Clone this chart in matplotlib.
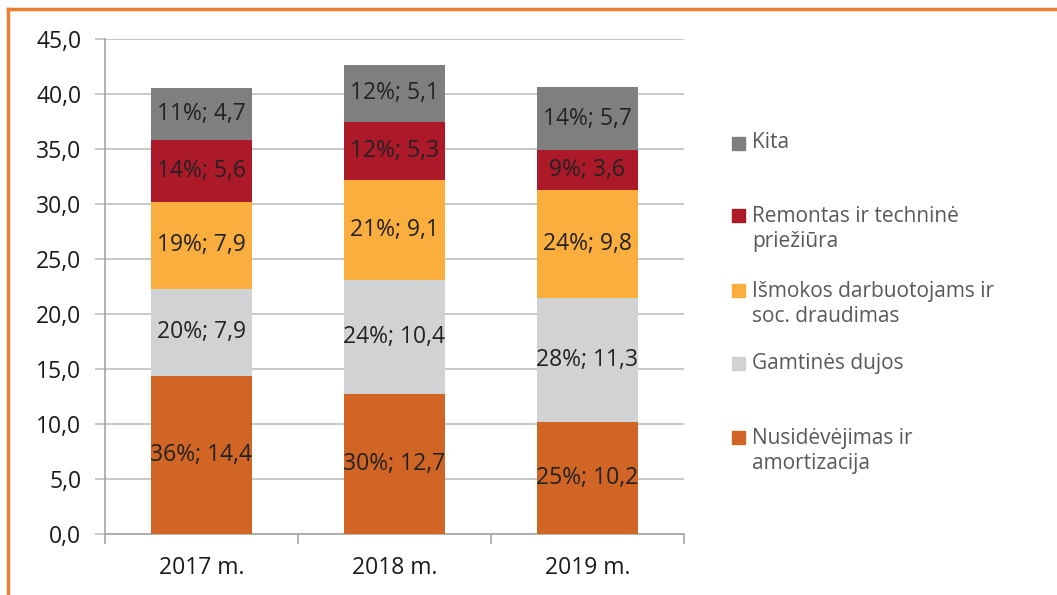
import numpy as np
import matplotlib
matplotlib.use("Agg")
import matplotlib.pyplot as plt
from matplotlib.patches import Rectangle
from matplotlib.lines import Line2D

plt.rcParams["font.family"] = ["Open Sans", "DejaVu Sans"]

years = ["2017 m.", "2018 m.", "2019 m."]
series = ["Nusidėvėjimas ir\namortizacija", "Gamtinės dujos",
          "Išmokos darbuotojams ir\nsoc. draudimas",
          "Remontas ir techninė\npriežiūra", "Kita"]
colors = ["#d06525", "#d0d2d4", "#f9ae3d", "#ac1a2a", "#7f7f7f"]

nusidevejimas = [14.4, 12.7, 10.2]
dujos = [7.9, 10.4, 11.3]
ismokos = [7.9, 9.1, 9.8]
remontas = [5.6, 5.3, 3.6]
kita = [4.7, 5.1, 5.7]
values = [nusidevejimas, dujos, ismokos, remontas, kita]

pct_nusidevejimas = [36, 30, 25]
pct_dujos = [20, 24, 28]
pct_ismokos = [19, 21, 24]
pct_remontas = [14, 12, 9]
pct_kita = [11, 12, 14]
percents = [pct_nusidevejimas, pct_dujos, pct_ismokos, pct_remontas, pct_kita]

W, H = 1057, 595
fig = plt.figure(figsize=(W / 100, H / 100), dpi=100)
ax = fig.add_axes([105 / W, 1 - 534 / H, (684 - 105) / W, (534 - 39) / H])

x = np.arange(len(years))
bottom = np.zeros(len(years))
for vals, pcts, col in zip(values, percents, colors):
    vals = np.array(vals)
    ax.bar(x, vals, width=0.52, bottom=bottom, color=col, zorder=3)
    for xi, v, p, b in zip(x, vals, pcts, bottom):
        lbl = f"{p}%; {v:.1f}".replace(".", ",")
        ax.text(xi, b + v / 2, lbl, ha="center", va="center",
                fontsize=16.5, color="#222222", zorder=4)
    bottom += vals

ax.set_xlim(-0.5, 2.5)
ax.set_ylim(0, 45)
ax.set_yticks(np.arange(0, 46, 5))
ax.set_yticklabels([f"{v:.1f}".replace(".", ",") for v in np.arange(0, 46, 5)])
ax.yaxis.grid(True, color="#bfbfbf", linewidth=1.2, zorder=0)
ax.set_xticks(x)
ax.set_xticklabels(years)
ax.set_xticks([-0.5, 0.5, 1.5, 2.5], minor=True)
ax.tick_params(axis="x", which="major", length=0, pad=16, labelsize=16.5, labelcolor="#1a1a1a")
ax.tick_params(axis="x", which="minor", length=7, color="#a6a6a6", width=1.2)
ax.tick_params(axis="y", length=7, color="#bfbfbf", width=1.2, pad=10,
               labelsize=16.5, labelcolor="#1a1a1a")
for s in ["top", "right"]:
    ax.spines[s].set_visible(False)
for s in ["left", "bottom"]:
    ax.spines[s].set_color("#a6a6a6")
    ax.spines[s].set_linewidth(1.2)

# legend, top entry first
leg_y = [143, 229, 304, 363, 451]
for lbl, col, yc in zip(series[::-1], colors[::-1], leg_y):
    nlines = lbl.count("\n") + 1
    ytop = yc - (nlines - 1) * 14
    fig.patches.append(Rectangle((732 / W, 1 - (ytop + 7) / H), 13 / W, 13 / H,
                                 transform=fig.transFigure, color=col))
    fig.text(752 / W, 1 - yc / H, lbl, ha="left", va="center", fontsize=15,
             color="#595959", linespacing=1.3)

# orange frame
fig.add_artist(Line2D([8 / W, 1], [1 - 9 / H, 1 - 9 / H], color="#ed7d31", lw=2.5,
                      transform=fig.transFigure))
fig.add_artist(Line2D([8 / W, 8 / W], [0, 1 - 9 / H], color="#ed7d31", lw=2.5,
                      transform=fig.transFigure))

fig.savefig("out.png", dpi=100, facecolor="white")
